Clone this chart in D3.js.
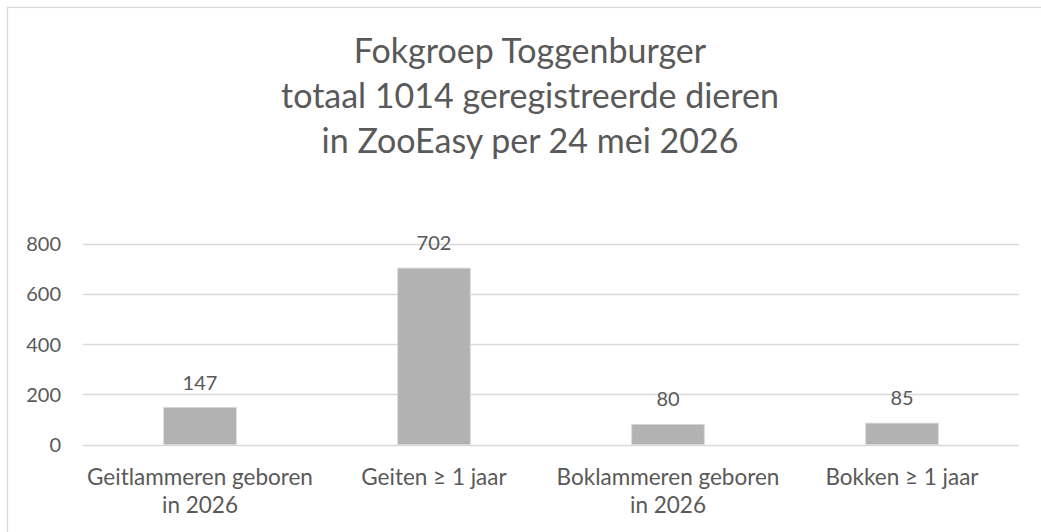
<!DOCTYPE html>
<html>
<head>
<meta charset="utf-8">
<script src="https://cdn.jsdelivr.net/npm/d3@7"></script>
<style>
  html, body { margin: 0; padding: 0; background: #fff; }
  svg { display: block; font-family: Lato, "Open Sans", sans-serif; }
</style>
</head>
<body>
<svg id="chart" width="1041" height="532"></svg>
<script>
const titleLines = ["Fokgroep Toggenburger", "totaal 1014 geregistreerde dieren", "in ZooEasy per 24 mei 2026"];
const categories = [
  ["Geitlammeren geboren", "in 2026"],
  ["Geiten \u2265 1 jaar"],
  ["Boklammeren geboren", "in 2026"],
  ["Bokken \u2265 1 jaar"]
];
const values = [147, 702, 80, 85];
const yTicks = [0, 200, 400, 600, 800];

const svg = d3.select("#chart");
const textColor = "#595959";
const gridColor = "#d9d9d9";

// chart border
svg.append("rect")
  .attr("x", 7.5).attr("y", 7.5)
  .attr("width", 1100).attr("height", 600)
  .attr("fill", "none").attr("stroke", gridColor).attr("stroke-width", 1.2);

const x = d3.scaleBand()
  .domain(categories.map((d, i) => i))
  .range([83, 1019])
  .paddingInner(0.69).paddingOuter(0.345);

const y = d3.scaleLinear().domain([0, 800]).range([444.5, 243.5]);

// gridlines
svg.append("g").selectAll("line").data(yTicks).join("line")
  .attr("x1", 83).attr("x2", 1019)
  .attr("y1", d => Math.round(y(d)) + 0.5).attr("y2", d => Math.round(y(d)) + 0.5)
  .attr("stroke", gridColor).attr("stroke-width", 1.3);

// y axis labels
const yAxis = d3.axisLeft(y).tickValues(yTicks).tickSize(0).tickPadding(0);
const gy = svg.append("g").attr("transform", "translate(61,0)").call(yAxis);
gy.select(".domain").remove();
gy.selectAll("text").attr("fill", textColor).attr("font-size", 20)
  .attr("font-family", "Lato, 'Open Sans', sans-serif").attr("dy", "0.36em");

// bars
svg.append("g").selectAll("rect").data(values).join("rect")
  .attr("x", (d, i) => x(i))
  .attr("y", d => y(d))
  .attr("width", x.bandwidth())
  .attr("height", d => y(0) - y(d))
  .attr("fill", "#b2b2b2")
  .attr("stroke", "#d6d6d6").attr("stroke-width", 0.8);

// value labels
svg.append("g").selectAll("text").data(values).join("text")
  .attr("x", (d, i) => x(i) + x.bandwidth() / 2)
  .attr("y", d => y(d) - 18)
  .attr("text-anchor", "middle")
  .attr("fill", textColor).attr("font-size", 20)
  .text(d => d);

// x axis category labels
const gx = svg.append("g");
categories.forEach((lines, i) => {
  const t = gx.append("text")
    .attr("x", x(i) + x.bandwidth() / 2)
    .attr("y", 485)
    .attr("text-anchor", "middle")
    .attr("fill", textColor).attr("font-size", 22.5);
  lines.forEach((l, j) => {
    t.append("tspan").attr("x", x(i) + x.bandwidth() / 2).attr("dy", j === 0 ? 0 : 28).text(l);
  });
});

// title
const title = svg.append("text")
  .attr("text-anchor", "middle")
  .attr("fill", textColor).attr("font-size", 34);
titleLines.forEach((l, j) => {
  title.append("tspan").attr("x", 530).attr("y", 63 + j * 45).text(l);
});
</script>
</body>
</html>
